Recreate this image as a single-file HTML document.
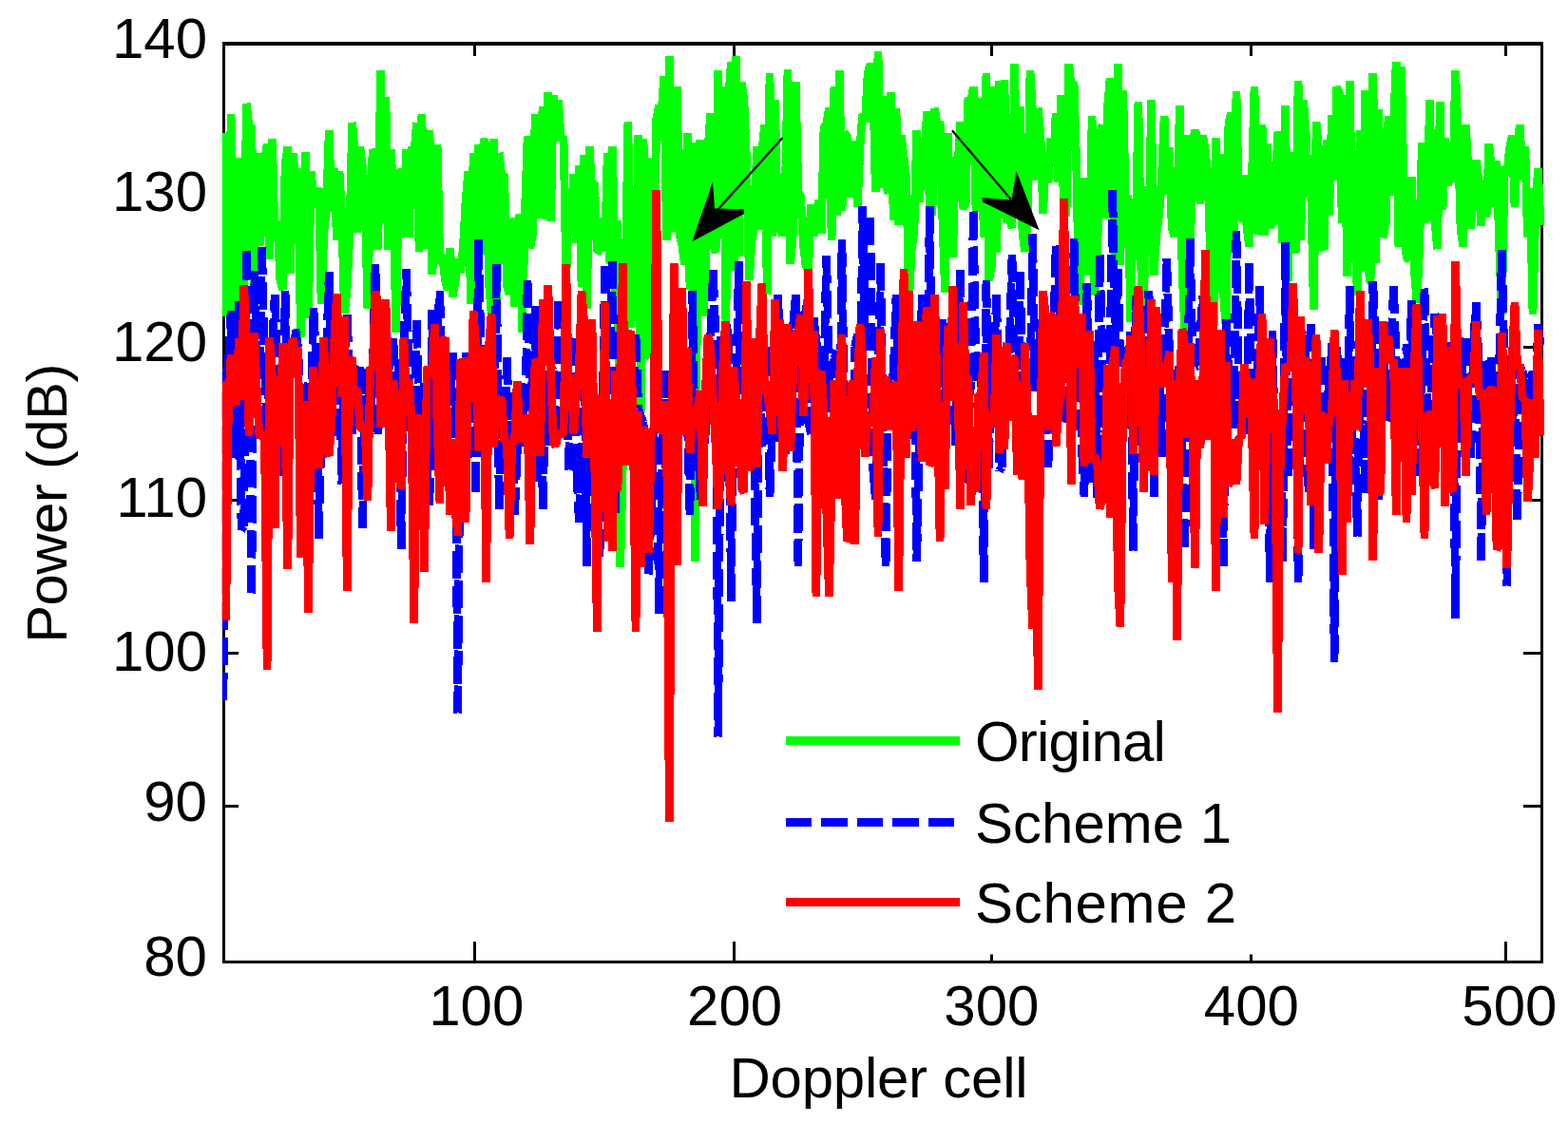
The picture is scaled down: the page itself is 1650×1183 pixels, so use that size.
<!DOCTYPE html>
<html lang="en">
<head>
<meta charset="utf-8">
<title>Doppler cell power</title>
<style>
html,body{margin:0;padding:0;background:#fff;}
body{width:1650px;height:1183px;overflow:hidden;position:relative;font-family:"Liberation Sans",sans-serif;}
svg{position:absolute;left:0;top:0;display:block;}
text{font-family:"Liberation Sans",sans-serif;font-size:60px;fill:#000;}
.c{fill:none;stroke-width:8.7;stroke-linejoin:bevel;stroke-linecap:butt;}
.k{stroke:#000;stroke-width:3.1;fill:none;}
</style>
</head>
<body>
<svg width="1650" height="1183" viewBox="0 0 1650 1183">
<rect x="0" y="0" width="1650" height="1183" fill="#fff"/>
<g class="k" shape-rendering="crispEdges">
<rect x="235.3" y="46.0" width="1386.9" height="966.5"/>
<line x1="499.4" y1="46.0" x2="499.4" y2="58.8"/>
<line x1="499.4" y1="991.0" x2="499.4" y2="1012.5"/>
<line x1="772.8" y1="46.0" x2="772.8" y2="58.8"/>
<line x1="772.8" y1="991.0" x2="772.8" y2="1012.5"/>
<line x1="1043.4" y1="46.0" x2="1043.4" y2="58.8"/>
<line x1="1043.4" y1="991.0" x2="1043.4" y2="1012.5"/>
<line x1="1316.6" y1="46.0" x2="1316.6" y2="58.8"/>
<line x1="1316.6" y1="991.0" x2="1316.6" y2="1012.5"/>
<line x1="1584.4" y1="46.0" x2="1584.4" y2="58.8"/>
<line x1="1584.4" y1="991.0" x2="1584.4" y2="1012.5"/>
<line x1="235.3" y1="204.3" x2="251.0" y2="204.3"/>
<line x1="1603.0" y1="204.3" x2="1622.2" y2="204.3"/>
<line x1="235.3" y1="365.4" x2="251.0" y2="365.4"/>
<line x1="1603.0" y1="365.4" x2="1622.2" y2="365.4"/>
<line x1="235.3" y1="526.4" x2="251.0" y2="526.4"/>
<line x1="1603.0" y1="526.4" x2="1622.2" y2="526.4"/>
<line x1="235.3" y1="687.5" x2="251.0" y2="687.5"/>
<line x1="1603.0" y1="687.5" x2="1622.2" y2="687.5"/>
<line x1="235.3" y1="848.5" x2="251.0" y2="848.5"/>
<line x1="1603.0" y1="848.5" x2="1622.2" y2="848.5"/>
</g>
<clipPath id="cp"><rect x="233.8" y="40" width="1400" height="980"/></clipPath>
<g shape-rendering="crispEdges" clip-path="url(#cp)">
<polyline class="c" stroke="#00ff00" points="235.0,140.0 237.7,332.4 240.4,326.9 243.1,120.0 245.8,341.4 248.6,350.0 251.3,166.2 254.0,323.2 256.7,297.1 259.4,108.8 262.1,136.0 264.8,132.0 267.6,320.0 270.3,161.0 273.0,258.9 275.7,235.3 278.4,171.5 281.1,151.8 283.8,272.5 286.5,145.8 289.2,254.1 292.0,232.7 294.7,293.6 297.4,305.0 300.1,173.0 302.8,154.5 305.5,287.7 308.2,161.2 310.9,189.3 313.7,177.5 316.4,355.0 319.1,266.5 321.8,160.2 324.5,335.0 327.2,180.0 329.9,206.1 332.6,207.3 335.4,197.8 338.1,320.0 340.8,245.2 343.5,220.7 346.2,137.5 348.9,222.5 351.6,177.5 354.4,253.3 357.1,180.5 359.8,231.2 362.5,330.0 365.2,302.4 367.9,247.5 370.6,128.8 373.3,161.0 376.0,245.0 378.8,154.5 381.5,175.5 384.2,213.5 386.9,325.0 389.6,207.6 392.3,157.0 395.0,168.5 397.8,262.5 400.5,74.0 403.2,235.1 405.9,102.5 408.6,263.0 411.3,157.0 414.0,206.1 416.7,350.0 419.4,188.0 422.2,177.5 424.9,249.5 427.6,157.0 430.3,250.0 433.0,154.5 435.7,164.8 438.4,128.8 441.1,265.0 443.9,120.5 446.6,261.9 449.3,146.2 452.0,137.5 454.7,288.8 457.4,253.6 460.1,152.0 462.9,277.3 465.6,268.0 468.3,294.5 471.0,305.2 473.7,261.2 476.4,312.5 479.1,296.6 481.8,272.4 484.5,287.2 487.3,260.8 490.0,212.0 492.7,180.5 495.4,320.0 498.1,160.8 500.8,310.7 503.5,151.8 506.2,268.3 509.0,145.8 511.7,154.0 514.4,297.6 517.1,329.5 519.8,145.8 522.5,340.0 525.2,160.8 528.0,187.3 530.7,183.0 533.4,301.3 536.1,310.0 538.8,229.2 541.5,322.9 544.2,270.4 546.9,225.5 549.6,350.0 552.4,222.5 555.1,143.2 557.8,261.1 560.5,246.6 563.2,120.5 565.9,230.0 568.6,146.1 571.3,112.0 574.1,230.7 576.8,97.0 579.5,232.5 582.2,100.5 584.9,113.7 587.6,105.5 590.3,148.6 593.0,143.2 595.8,295.0 598.5,200.5 601.2,222.1 603.9,183.0 606.6,256.1 609.3,174.2 612.0,302.4 614.8,163.0 617.5,325.0 620.2,154.5 622.9,202.1 625.6,191.8 628.3,264.6 631.0,263.7 633.7,229.6 636.5,265.0 639.2,160.8 641.9,277.7 644.6,153.8 647.3,310.0 650.0,232.5 652.7,597.0 655.4,486.2 658.1,296.6 660.9,128.0 663.6,345.0 666.3,309.5 669.0,318.4 671.7,142.5 674.4,433.5 677.1,146.2 679.8,374.0 682.6,374.9 685.3,166.2 688.0,311.4 690.7,125.0 693.4,111.2 696.1,117.2 698.8,80.0 701.5,252.6 704.3,58.8 707.0,240.3 709.7,240.0 712.4,91.2 715.1,247.7 717.8,258.4 720.5,278.3 723.2,140.0 726.0,305.0 728.7,150.0 731.4,590.8 734.1,242.9 736.8,147.5 739.5,332.5 742.2,301.9 745.0,157.8 747.7,119.5 750.4,255.3 753.1,266.2 755.8,73.8 758.5,250.9 761.2,91.2 763.9,340.0 766.6,104.3 769.4,65.0 772.1,285.0 774.8,58.8 777.5,270.0 780.2,86.2 782.9,105.0 785.6,170.2 788.4,295.0 791.1,252.9 793.8,240.0 796.5,153.8 799.2,241.7 801.9,158.9 804.6,131.2 807.3,310.0 810.0,77.5 812.8,249.3 815.5,105.0 818.2,230.0 820.9,240.0 823.6,248.2 826.3,202.4 829.0,73.0 831.8,277.5 834.5,245.3 837.2,86.2 839.9,202.5 842.6,206.2 845.3,256.2 848.0,280.1 850.7,282.5 853.4,215.0 856.2,248.1 858.9,223.9 861.6,211.2 864.3,246.0 867.0,133.8 869.7,131.2 872.4,113.8 875.1,252.5 877.9,91.2 880.6,226.7 883.3,73.8 886.0,221.9 888.7,140.0 891.4,142.5 894.1,207.5 896.9,148.8 899.6,165.0 902.3,217.5 905.0,153.8 907.7,120.0 910.4,128.7 913.1,77.5 915.8,67.5 918.5,75.2 921.3,202.3 924.0,53.8 926.7,197.6 929.4,101.2 932.1,195.0 934.8,203.6 937.5,97.0 940.2,231.9 943.0,113.8 945.7,237.1 948.4,142.5 951.1,165.0 953.8,187.5 956.5,317.5 959.2,263.6 961.9,243.8 964.7,137.0 967.4,212.5 970.1,166.9 972.8,163.1 975.5,117.5 978.2,217.5 980.9,226.8 983.6,113.8 986.4,134.4 989.1,127.5 991.8,228.9 994.5,307.5 997.2,140.0 999.9,249.2 1002.6,270.5 1005.4,165.0 1008.1,171.1 1010.8,128.0 1013.5,220.0 1016.2,213.3 1018.9,102.5 1021.6,109.4 1024.3,91.2 1027.0,222.5 1029.8,109.8 1032.5,104.2 1035.2,250.2 1037.9,77.0 1040.6,295.0 1043.3,281.3 1046.0,91.2 1048.8,266.0 1051.5,85.0 1054.2,229.9 1056.9,83.8 1059.6,234.1 1062.3,230.0 1065.0,240.0 1067.7,67.5 1070.4,227.3 1073.2,112.5 1075.9,244.1 1078.6,265.0 1081.3,230.6 1084.0,73.8 1086.7,119.8 1089.4,190.0 1092.2,113.8 1094.9,140.0 1097.6,225.0 1100.3,165.6 1103.0,192.3 1105.7,145.0 1108.4,175.0 1111.1,119.5 1113.8,192.3 1116.6,100.0 1119.3,215.0 1122.0,228.2 1124.7,67.5 1127.4,92.1 1130.1,86.2 1132.8,176.2 1135.5,321.0 1138.3,270.0 1141.0,187.5 1143.7,234.7 1146.4,289.7 1149.1,122.5 1151.8,311.0 1154.5,282.2 1157.2,145.1 1160.0,131.2 1162.7,230.0 1165.4,113.8 1168.1,82.5 1170.8,93.9 1173.5,273.5 1176.2,67.5 1178.9,278.9 1181.7,95.0 1184.4,216.6 1187.1,205.0 1189.8,338.5 1192.5,210.9 1195.2,245.4 1197.9,107.5 1200.7,280.9 1203.4,331.0 1206.1,196.2 1208.8,269.1 1211.5,105.0 1214.2,290.0 1216.9,246.9 1219.6,226.4 1222.3,190.0 1225.1,122.0 1227.8,204.8 1230.5,155.0 1233.2,240.0 1235.9,249.0 1238.6,235.6 1241.3,111.2 1244.0,282.0 1246.8,351.0 1249.5,142.5 1252.2,281.0 1254.9,150.9 1257.6,137.0 1260.3,146.7 1263.0,215.0 1265.8,142.5 1268.5,160.0 1271.2,187.5 1273.9,278.9 1276.6,396.0 1279.3,145.0 1282.0,309.3 1284.7,162.5 1287.5,308.9 1290.2,346.0 1292.9,130.0 1295.6,118.8 1298.3,259.1 1301.0,96.2 1303.7,230.0 1306.4,229.4 1309.1,183.8 1311.9,237.3 1314.6,259.8 1317.3,192.3 1320.0,91.2 1322.7,246.2 1325.4,240.1 1328.1,131.2 1330.8,247.5 1333.6,151.2 1336.3,239.7 1339.0,233.5 1341.7,235.0 1344.4,138.8 1347.1,148.9 1349.8,256.4 1352.5,111.2 1355.3,296.0 1358.0,160.0 1360.7,255.5 1363.4,266.2 1366.1,85.0 1368.8,252.5 1371.5,105.0 1374.2,140.0 1377.0,207.1 1379.7,204.3 1382.4,326.0 1385.1,128.0 1387.8,165.0 1390.5,259.3 1393.2,262.5 1396.0,147.5 1398.7,227.3 1401.4,121.2 1404.1,190.0 1406.8,91.2 1409.5,98.9 1412.2,234.8 1414.9,99.6 1417.6,291.0 1420.4,85.0 1423.1,275.0 1425.8,254.7 1428.5,311.0 1431.2,137.0 1433.9,285.6 1436.6,95.0 1439.3,280.6 1442.1,298.5 1444.8,77.0 1447.5,277.4 1450.2,115.0 1452.9,170.4 1455.6,250.1 1458.3,235.0 1461.0,122.5 1463.8,205.8 1466.5,132.0 1469.2,65.0 1471.9,260.0 1474.6,70.0 1477.3,210.6 1480.0,271.1 1482.8,273.4 1485.5,186.2 1488.2,281.5 1490.9,318.5 1493.6,263.3 1496.3,150.0 1499.0,234.1 1501.7,222.5 1504.5,105.0 1507.2,229.8 1509.9,231.3 1512.6,262.2 1515.3,107.5 1518.0,221.3 1520.7,145.0 1523.4,195.6 1526.1,181.2 1528.9,191.9 1531.6,73.8 1534.3,141.6 1537.0,240.9 1539.7,259.8 1542.4,131.2 1545.1,180.7 1547.8,241.2 1550.6,183.4 1553.3,168.8 1556.0,188.5 1558.7,237.5 1561.4,189.1 1564.1,228.4 1566.8,151.2 1569.5,179.4 1572.3,217.5 1575.0,168.8 1577.7,260.8 1580.4,331.0 1583.1,175.0 1585.8,184.0 1588.5,156.2 1591.2,142.5 1594.0,217.5 1596.7,152.9 1599.4,131.2 1602.1,190.0 1604.8,153.8 1607.5,250.2 1610.2,198.3 1613.0,331.0 1615.7,228.8 1618.4,177.0 1621.1,237.5"/>
<path class="c" stroke="#0000ff" stroke-dasharray="29 8" d="M235.0 737.0L237.7 392.9M237.7 392.9L240.4 382.9M240.4 382.9L243.1 327.5M243.1 327.5L245.8 482.0M245.8 482.0L248.6 478.0M248.6 478.0L251.3 317.5M251.3 317.5L254.0 558.2M254.0 558.2L256.7 554.2M256.7 554.2L259.4 263.8M259.4 263.8L262.1 373.2M262.1 373.2L264.8 624.5M264.8 624.5L267.6 285.0M267.6 285.0L270.3 372.4M270.3 372.4L273.0 393.9M273.0 393.9L275.7 260.0M275.7 260.0L278.4 387.2M278.4 387.2L281.1 457.0M281.1 457.0L283.8 361.2M283.8 361.2L286.5 364.2M286.5 364.2L289.2 310.0M289.2 310.0L292.0 387.3M292.0 387.3L294.7 469.5M294.7 469.5L297.4 500.7M297.4 500.7L300.1 306.2M300.1 306.2L302.8 462.6M302.8 462.6L305.5 388.5M305.5 388.5L308.2 381.1M308.2 381.1L310.9 346.2M310.9 346.2L313.7 365.9M313.7 365.9L316.4 436.0M316.4 436.0L319.1 414.7M319.1 414.7L321.8 411.4M321.8 411.4L324.5 403.0M324.5 403.0L327.2 435.7M327.2 435.7L329.9 323.8M329.9 323.8L332.6 377.9M332.6 377.9L335.4 567.0M335.4 567.0L338.1 451.9M338.1 451.9L340.8 479.6M340.8 479.6L343.5 374.3M343.5 374.3L346.2 286.2M346.2 286.2L348.9 457.0M348.9 457.0L351.6 458.5M351.6 458.5L354.4 380.1M354.4 380.1L357.1 397.3M357.1 397.3L359.8 509.5M359.8 509.5L362.5 375.2M362.5 375.2L365.2 331.2M365.2 331.2L367.9 395.2M367.9 395.2L370.6 457.0M370.6 457.0L373.3 390.0M373.3 390.0L376.0 391.3M376.0 391.3L378.8 386.0M378.8 386.0L381.5 555.8M381.5 555.8L384.2 393.7M384.2 393.7L386.9 390.0M386.9 390.0L389.6 444.5M389.6 444.5L392.3 390.0M392.3 390.0L395.0 278.0M395.0 278.0L397.8 457.0M397.8 457.0L400.5 413.4M400.5 413.4L403.2 420.7M403.2 420.7L405.9 360.2M405.9 360.2L408.6 360.2M408.6 360.2L411.3 457.0M411.3 457.0L414.0 356.2M414.0 356.2L416.7 472.7M416.7 472.7L419.4 377.6M419.4 377.6L422.2 578.2M422.2 578.2L424.9 367.5M424.9 367.5L427.6 283.0M427.6 283.0L430.3 394.9M430.3 394.9L433.0 457.0M433.0 457.0L435.7 508.8M435.7 508.8L438.4 337.5M438.4 337.5L441.1 444.5M441.1 444.5L443.9 459.1M443.9 459.1L446.6 403.1M446.6 403.1L449.3 494.0M449.3 494.0L452.0 532.0M452.0 532.0L454.7 326.2M454.7 326.2L457.4 493.0M457.4 493.0L460.1 343.2M460.1 343.2L462.9 306.2M462.9 306.2L465.6 469.5M465.6 469.5L468.3 428.4M468.3 428.4L471.0 392.8M471.0 392.8L473.7 426.7M473.7 426.7L476.4 371.0M476.4 371.0L479.1 432.2M479.1 432.2L481.8 750.5M481.8 750.5L484.5 382.6M484.5 382.6L487.3 445.6M487.3 445.6L490.0 371.0M490.0 371.0L492.7 482.0M492.7 482.0L495.4 380.7M495.4 380.7L498.1 375.0M498.1 375.0L500.8 518.2M500.8 518.2L503.5 252.0M503.5 252.0L506.2 377.5M506.2 377.5L509.0 423.9M509.0 423.9L511.7 457.0M511.7 457.0L514.4 389.9M514.4 389.9L517.1 331.0M517.1 331.0L519.8 424.8M519.8 424.8L522.5 278.0M522.5 278.0L525.2 535.8M525.2 535.8L528.0 412.2M528.0 412.2L530.7 472.8M530.7 472.8L533.4 376.0M533.4 376.0L536.1 460.1M536.1 460.1L538.8 443.5M538.8 443.5L541.5 542.0M541.5 542.0L544.2 476.9M544.2 476.9L546.9 408.1M546.9 408.1L549.6 418.1M549.6 418.1L552.4 469.5M552.4 469.5L555.1 295.0M555.1 295.0L557.8 415.6M557.8 415.6L560.5 398.7M560.5 398.7L563.2 322.5M563.2 322.5L565.9 507.0M565.9 507.0L568.6 390.0M568.6 390.0L571.3 535.8M571.3 535.8L574.1 390.0M574.1 390.0L576.8 468.6M576.8 468.6L579.5 386.0M579.5 386.0L582.2 390.0M582.2 390.0L584.9 457.0M584.9 457.0L587.6 317.5M587.6 317.5L590.3 360.0M590.3 360.0L593.0 360.0M593.0 360.0L595.8 360.0M595.8 360.0L598.5 494.5M598.5 494.5L601.2 360.0M601.2 360.0L603.9 356.0M603.9 356.0L606.6 490.5M606.6 490.5L609.3 549.5M609.3 549.5L612.0 495.3M612.0 495.3L614.8 361.0M614.8 361.0L617.5 595.8M617.5 595.8L620.2 365.0M620.2 365.0L622.9 386.9M622.9 386.9L625.6 486.4M625.6 486.4L628.3 512.9M628.3 512.9L631.0 586.4M631.0 586.4L633.7 457.0M633.7 457.0L636.5 280.0M636.5 280.0L639.2 346.6M639.2 346.6L641.9 372.7M641.9 372.7L644.6 275.0M644.6 275.0L647.3 539.8M647.3 539.8L650.0 410.2M650.0 410.2L652.7 441.7M652.7 441.7L655.4 356.2M655.4 356.2L658.1 457.0M658.1 457.0L660.9 360.3M660.9 360.3L663.6 486.1M663.6 486.1L666.3 414.6M666.3 414.6L669.0 352.2M669.0 352.2L671.7 430.2M671.7 430.2L674.4 438.7M674.4 438.7L677.1 444.5M677.1 444.5L679.8 533.3M679.8 533.3L682.6 604.5M682.6 604.5L685.3 536.1M685.3 536.1L688.0 456.3M688.0 456.3L690.7 386.0M690.7 386.0L693.4 645.8M693.4 645.8L696.1 523.4M696.1 523.4L698.8 390.0M698.8 390.0L701.5 561.0M701.5 561.0L704.3 390.0M704.3 390.0L707.0 457.0M707.0 457.0L709.7 414.2M709.7 414.2L712.4 518.7M712.4 518.7L715.1 390.0M715.1 390.0L717.8 390.0M717.8 390.0L720.5 406.8M720.5 406.8L723.2 435.1M723.2 435.1L726.0 542.0M726.0 542.0L728.7 306.2M728.7 306.2L731.4 495.7M731.4 495.7L734.1 415.0M734.1 415.0L736.8 526.2M736.8 526.2L739.5 504.0M739.5 504.0L742.2 457.0M742.2 457.0L745.0 356.9M745.0 356.9L747.7 353.9M747.7 353.9L750.4 283.8M750.4 283.8L753.1 358.7M753.1 358.7L755.8 775.5M755.8 775.5L758.5 353.7M758.5 353.7L761.2 507.0M761.2 507.0L763.9 339.5M763.9 339.5L766.6 354.5M766.6 354.5L769.4 633.2M769.4 633.2L772.1 391.0M772.1 391.0L774.8 401.3M774.8 401.3L777.5 275.0M777.5 275.0L780.2 514.7M780.2 514.7L782.9 482.0M782.9 482.0L785.6 365.0M785.6 365.0L788.4 365.0M788.4 365.0L791.1 399.6M791.1 399.6L793.8 486.9M793.8 486.9L796.5 655.8M796.5 655.8L799.2 361.0M799.2 361.0L801.9 469.5M801.9 469.5L804.6 403.8M804.6 403.8L807.3 365.0M807.3 365.0L810.0 523.2M810.0 523.2L812.8 448.6M812.8 448.6L815.5 464.5M815.5 464.5L818.2 310.0M818.2 310.0L820.9 354.0M820.9 354.0L823.6 457.0M823.6 457.0L826.3 478.3M826.3 478.3L829.0 341.6M829.0 341.6L831.8 343.6M831.8 343.6L834.5 345.6M834.5 345.6L837.2 310.0M837.2 310.0L839.9 595.8M839.9 595.8L842.6 328.0M842.6 328.0L845.3 446.1M845.3 446.1L848.0 320.8M848.0 320.8L850.7 443.8M850.7 443.8L853.4 457.0M853.4 457.0L856.2 334.0M856.2 334.0L858.9 358.7M858.9 358.7L861.6 378.7M861.6 378.7L864.3 534.8M864.3 534.8L867.0 393.1M867.0 393.1L869.7 268.8M869.7 268.8L872.4 394.6M872.4 394.6L875.1 433.5M875.1 433.5L877.9 377.3M877.9 377.3L880.6 368.7M880.6 368.7L883.3 515.8M883.3 515.8L886.0 252.5M886.0 252.5L888.7 465.9M888.7 465.9L891.4 431.8M891.4 431.8L894.1 543.9M894.1 543.9L896.9 565.6M896.9 565.6L899.6 365.1M899.6 365.1L902.3 351.9M902.3 351.9L905.0 457.0M905.0 457.0L907.7 217.5M907.7 217.5L910.4 357.4M910.4 357.4L913.1 369.1M913.1 369.1L915.8 228.8M915.8 228.8L918.5 491.1M918.5 491.1L921.3 525.8M921.3 525.8L924.0 410.1M924.0 410.1L926.7 277.5M926.7 277.5L929.4 492.4M929.4 492.4L932.1 595.8M932.1 595.8L934.8 397.3M934.8 397.3L937.5 399.4M937.5 399.4L940.2 393.7M940.2 393.7L943.0 310.0M943.0 310.0L945.7 394.6M945.7 394.6L948.4 457.0M948.4 457.0L951.1 365.0M951.1 365.0L953.8 365.0M953.8 365.0L956.5 361.0M956.5 361.0L959.2 461.5M959.2 461.5L961.9 365.0M961.9 365.0L964.7 590.8M964.7 590.8L967.4 466.8M967.4 466.8L970.1 310.0M970.1 310.0L972.8 408.3M972.8 408.3L975.5 481.9M975.5 481.9L978.2 217.5M978.2 217.5L980.9 412.0M980.9 412.0L983.6 465.8M983.6 465.8L986.4 444.5M986.4 444.5L989.1 394.2M989.1 394.2L991.8 336.0M991.8 336.0L994.5 457.0M994.5 457.0L997.2 340.0M997.2 340.0L999.9 340.0M999.9 340.0L1002.6 353.1M1002.6 353.1L1005.4 468.8M1005.4 468.8L1008.1 342.3M1008.1 342.3L1010.8 283.8M1010.8 283.8L1013.5 508.4M1013.5 508.4L1016.2 457.0M1016.2 457.0L1018.9 453.1M1018.9 453.1L1021.6 401.4M1021.6 401.4L1024.3 222.5M1024.3 222.5L1027.0 400.8M1027.0 400.8L1029.8 390.0M1029.8 390.0L1032.5 379.1M1032.5 379.1L1035.2 613.2M1035.2 613.2L1037.9 295.0M1037.9 295.0L1040.6 493.3M1040.6 493.3L1043.3 359.0M1043.3 359.0L1046.0 367.7M1046.0 367.7L1048.8 310.0M1048.8 310.0L1051.5 495.8M1051.5 495.8L1054.2 492.0M1054.2 492.0L1056.9 389.6M1056.9 389.6L1059.6 360.5M1059.6 360.5L1062.3 363.5M1062.3 363.5L1065.0 268.5M1065.0 268.5L1067.7 382.7M1067.7 382.7L1070.4 494.2M1070.4 494.2L1073.2 286.0M1073.2 286.0L1075.9 393.1M1075.9 393.1L1078.6 444.5M1078.6 444.5L1081.3 386.7M1081.3 386.7L1084.0 406.4M1084.0 406.4L1086.7 246.0M1086.7 246.0L1089.4 412.1M1089.4 412.1L1092.2 402.2M1092.2 402.2L1094.9 347.8M1094.9 347.8L1097.6 437.8M1097.6 437.8L1100.3 427.7M1100.3 427.7L1103.0 492.0M1103.0 492.0L1105.7 374.8M1105.7 374.8L1108.4 366.4M1108.4 366.4L1111.1 258.5M1111.1 258.5L1113.8 271.2M1113.8 271.2L1116.6 373.8M1116.6 373.8L1119.3 444.5M1119.3 444.5L1122.0 436.1M1122.0 436.1L1124.7 355.1M1124.7 355.1L1127.4 420.1M1127.4 420.1L1130.1 251.0M1130.1 251.0L1132.8 401.4M1132.8 401.4L1135.5 356.9M1135.5 356.9L1138.3 470.2M1138.3 470.2L1141.0 523.2M1141.0 523.2L1143.7 298.5M1143.7 298.5L1146.4 404.4M1146.4 404.4L1149.1 507.6M1149.1 507.6L1151.8 358.7M1151.8 358.7L1154.5 523.9M1154.5 523.9L1157.2 268.5M1157.2 268.5L1160.0 379.0M1160.0 379.0L1162.7 455.3M1162.7 455.3L1165.4 457.0M1165.4 457.0L1168.1 371.2M1168.1 371.2L1170.8 200.0M1170.8 200.0L1173.5 365.3M1173.5 365.3L1176.2 283.5M1176.2 283.5L1178.9 386.1M1178.9 386.1L1181.7 372.4M1181.7 372.4L1184.4 365.4M1184.4 365.4L1187.1 451.1M1187.1 451.1L1189.8 348.7M1189.8 348.7L1192.5 579.5M1192.5 579.5L1195.2 311.0M1195.2 311.0L1197.9 373.0M1197.9 373.0L1200.7 364.4M1200.7 364.4L1203.4 457.0M1203.4 457.0L1206.1 351.1M1206.1 351.1L1208.8 306.0M1208.8 306.0L1211.5 354.9M1211.5 354.9L1214.2 523.2M1214.2 523.2L1216.9 357.7M1216.9 357.7L1219.6 386.3M1219.6 386.3L1222.3 480.8M1222.3 480.8L1225.1 381.5M1225.1 381.5L1227.8 272.2M1227.8 272.2L1230.5 370.6M1230.5 370.6L1233.2 444.5M1233.2 444.5L1235.9 389.6M1235.9 389.6L1238.6 389.5M1238.6 389.5L1241.3 408.6M1241.3 408.6L1244.0 471.7M1244.0 471.7L1246.8 575.8M1246.8 575.8L1249.5 414.0M1249.5 414.0L1252.2 251.5M1252.2 251.5L1254.9 372.1M1254.9 372.1L1257.6 386.2M1257.6 386.2L1260.3 385.1M1260.3 385.1L1263.0 349.1M1263.0 349.1L1265.8 311.0M1265.8 311.0L1268.5 457.0M1268.5 457.0L1271.2 439.8M1271.2 439.8L1273.9 400.7M1273.9 400.7L1276.6 428.3M1276.6 428.3L1279.3 398.3M1279.3 398.3L1282.0 375.0M1282.0 375.0L1284.7 351.7M1284.7 351.7L1287.5 595.8M1287.5 595.8L1290.2 336.0M1290.2 336.0L1292.9 395.2M1292.9 395.2L1295.6 423.2M1295.6 423.2L1298.3 451.3M1298.3 451.3L1301.0 243.0M1301.0 243.0L1303.7 427.0M1303.7 427.0L1306.4 456.5M1306.4 456.5L1309.1 390.8M1309.1 390.8L1311.9 457.0M1311.9 457.0L1314.6 277.2M1314.6 277.2L1317.3 435.7M1317.3 435.7L1320.0 435.1M1320.0 435.1L1322.7 433.4M1322.7 433.4L1325.4 301.0M1325.4 301.0L1328.1 407.1M1328.1 407.1L1330.8 509.0M1330.8 509.0L1333.6 414.3M1333.6 414.3L1336.3 613.2M1336.3 613.2L1339.0 348.5M1339.0 348.5L1341.7 487.7M1341.7 487.7L1344.4 442.8M1344.4 442.8L1347.1 444.5M1347.1 444.5L1349.8 591.3M1349.8 591.3L1352.5 254.8M1352.5 254.8L1355.3 500.8M1355.3 500.8L1358.0 352.5M1358.0 352.5L1360.7 352.5M1360.7 352.5L1363.4 352.5M1363.4 352.5L1366.1 613.2M1366.1 613.2L1368.8 348.5M1368.8 348.5L1371.5 352.7M1371.5 352.7L1374.2 378.2M1374.2 378.2L1377.0 518.2M1377.0 518.2L1379.7 341.0M1379.7 341.0L1382.4 578.2M1382.4 578.2L1385.1 419.1M1385.1 419.1L1387.8 380.0M1387.8 380.0L1390.5 376.0M1390.5 376.0L1393.2 457.0M1393.2 457.0L1396.0 427.5M1396.0 427.5L1398.7 404.1M1398.7 404.1L1401.4 361.0M1401.4 361.0L1404.1 697.0M1404.1 697.0L1406.8 365.0M1406.8 365.0L1409.5 433.9M1409.5 433.9L1412.2 377.5M1412.2 377.5L1414.9 395.1M1414.9 395.1L1417.6 457.0M1417.6 457.0L1420.4 301.0M1420.4 301.0L1423.1 505.8M1423.1 505.8L1425.8 480.7M1425.8 480.7L1428.5 564.5M1428.5 564.5L1431.2 377.8M1431.2 377.8L1433.9 336.0M1433.9 336.0L1436.6 518.7M1436.6 518.7L1439.3 442.6M1439.3 442.6L1442.1 457.0M1442.1 457.0L1444.8 296.0M1444.8 296.0L1447.5 367.2M1447.5 367.2L1450.2 525.7M1450.2 525.7L1452.9 466.1M1452.9 466.1L1455.6 341.9M1455.6 341.9L1458.3 443.2M1458.3 443.2L1461.0 418.3M1461.0 418.3L1463.8 363.6M1463.8 363.6L1466.5 301.0M1466.5 301.0L1469.2 379.6M1469.2 379.6L1471.9 381.4M1471.9 381.4L1474.6 383.2M1474.6 383.2L1477.3 443.2M1477.3 443.2L1480.0 362.1M1480.0 362.1L1482.8 395.6M1482.8 395.6L1485.5 316.0M1485.5 316.0L1488.2 438.7M1488.2 438.7L1490.9 500.8M1490.9 500.8L1493.6 469.0M1493.6 469.0L1496.3 374.4M1496.3 374.4L1499.0 303.5M1499.0 303.5L1501.7 421.3M1501.7 421.3L1504.5 450.3M1504.5 450.3L1507.2 381.8M1507.2 381.8L1509.9 329.8M1509.9 329.8L1512.6 360.0M1512.6 360.0L1515.3 444.5M1515.3 444.5L1518.0 406.0M1518.0 406.0L1520.7 475.0M1520.7 475.0L1523.4 479.4M1523.4 479.4L1526.1 360.0M1526.1 360.0L1528.9 381.8M1528.9 381.8L1531.6 650.8M1531.6 650.8L1534.3 360.0M1534.3 360.0L1537.0 437.4M1537.0 437.4L1539.7 368.0M1539.7 368.0L1542.4 356.0M1542.4 356.0L1545.1 457.0M1545.1 457.0L1547.8 482.3M1547.8 482.3L1550.6 360.0M1550.6 360.0L1553.3 318.5M1553.3 318.5L1556.0 380.0M1556.0 380.0L1558.7 590.0M1558.7 590.0L1561.4 380.0M1561.4 380.0L1564.1 389.3M1564.1 389.3L1566.8 518.8M1566.8 518.8L1569.5 376.0M1569.5 376.0L1572.3 457.0M1572.3 457.0L1575.0 380.0M1575.0 380.0L1577.7 380.0M1577.7 380.0L1580.4 263.5M1580.4 263.5L1583.1 390.0M1583.1 390.0L1585.8 616.5M1585.8 616.5L1588.5 390.0M1588.5 390.0L1591.2 456.0M1591.2 456.0L1594.0 404.1M1594.0 404.1L1596.7 547.0M1596.7 547.0L1599.4 386.0M1599.4 386.0L1602.1 390.3M1602.1 390.3L1604.8 399.1M1604.8 399.1L1607.5 458.8M1607.5 458.8L1610.2 413.8M1610.2 413.8L1613.0 390.0M1613.0 390.0L1615.7 444.5M1615.7 444.5L1618.4 341.0M1618.4 341.0L1621.1 363.5"/>
<polyline class="c" stroke="#ff0000" points="235.0,401.0 237.7,653.2 240.4,427.0 243.1,373.5 245.8,410.0 248.6,427.0 251.3,356.0 254.0,421.2 256.7,300.5 259.4,357.5 262.1,458.5 264.8,392.0 267.6,350.5 270.3,410.9 273.0,461.0 275.7,457.0 278.4,457.0 281.1,705.0 283.8,355.5 286.5,395.0 289.2,555.8 292.0,395.0 294.7,469.2 297.4,361.0 300.1,452.3 302.8,599.0 305.5,370.0 308.2,355.5 310.9,370.0 313.7,366.0 316.4,587.0 319.1,422.5 321.8,436.0 324.5,645.0 327.2,435.2 329.9,386.0 332.6,488.0 335.4,492.0 338.1,428.6 340.8,355.5 343.5,475.5 346.2,479.5 348.9,445.5 351.6,360.0 354.4,309.0 357.1,385.7 359.8,417.7 362.5,333.5 365.2,622.0 367.9,383.8 370.6,376.0 373.3,428.5 376.0,408.4 378.8,450.5 381.5,450.5 384.2,450.5 386.9,527.0 389.6,386.0 392.3,390.0 395.0,306.5 397.8,319.5 400.5,449.5 403.2,326.4 405.9,315.5 408.6,400.0 411.3,559.0 414.0,400.0 416.7,423.2 419.4,497.8 422.2,514.5 424.9,355.5 427.6,423.2 430.3,399.8 433.0,440.0 435.7,655.8 438.4,440.0 441.1,440.0 443.9,440.0 446.6,602.0 449.3,386.0 452.0,390.0 454.7,390.0 457.4,341.0 460.1,450.6 462.9,529.5 465.6,359.5 468.3,355.5 471.0,462.5 473.7,542.0 476.4,462.5 479.1,538.0 481.8,564.0 484.5,378.5 487.3,382.5 490.0,549.5 492.7,376.0 495.4,423.7 498.1,327.2 500.8,365.0 503.5,475.0 506.2,372.7 509.0,365.0 511.7,613.2 514.4,365.0 517.1,329.8 519.8,470.5 522.5,422.5 525.2,422.5 528.0,418.5 530.7,465.0 533.4,465.0 536.1,567.0 538.8,465.2 541.5,465.2 544.2,401.0 546.9,450.2 549.6,465.5 552.4,440.0 555.1,440.0 557.8,573.2 560.5,440.0 563.2,378.5 565.9,382.5 568.6,479.5 571.3,315.5 574.1,351.2 576.8,300.5 579.5,390.0 582.2,465.5 584.9,469.5 587.6,453.6 590.3,457.0 593.0,457.0 595.8,278.0 598.5,422.7 601.2,394.7 603.9,457.0 606.6,415.1 609.3,390.0 612.0,306.5 614.8,340.0 617.5,482.0 620.2,390.7 622.9,336.0 625.6,478.0 628.3,664.5 631.0,415.0 633.7,537.9 636.5,318.5 639.2,569.6 641.9,420.9 644.6,579.5 647.3,390.0 650.0,517.0 652.7,390.0 655.4,277.2 658.1,489.5 660.9,352.5 663.6,348.5 666.3,450.2 669.0,664.5 671.7,433.5 674.4,597.0 677.1,452.5 679.8,452.5 682.6,582.0 685.3,452.8 688.0,452.8 690.7,200.0 693.4,453.0 696.1,453.0 698.8,422.4 701.5,446.5 704.3,865.0 707.0,447.2 709.7,277.2 712.4,594.5 715.1,327.6 717.8,303.5 720.5,458.0 723.2,366.0 726.0,477.0 728.7,446.1 731.4,430.0 734.1,430.0 736.8,411.0 739.5,533.2 742.2,415.0 745.0,352.2 747.7,365.0 750.4,419.1 753.1,470.5 755.8,535.8 758.5,482.5 761.2,365.0 763.9,338.0 766.6,495.5 769.4,532.0 772.1,386.0 774.8,424.0 777.5,421.2 780.2,514.2 782.9,518.2 785.6,296.0 788.4,495.8 791.1,360.0 793.8,360.0 796.5,492.0 799.2,360.0 801.9,298.0 804.6,411.9 807.3,412.7 810.0,432.1 812.8,457.0 815.5,315.5 818.2,410.2 820.9,336.0 823.6,495.8 826.3,425.3 829.0,341.0 831.8,474.5 834.5,396.6 837.2,350.0 839.9,350.0 842.6,331.0 845.3,438.0 848.0,385.6 850.7,283.5 853.4,402.4 856.2,348.5 858.9,628.2 861.6,395.0 864.3,391.0 867.0,432.7 869.7,535.5 872.4,628.2 875.1,506.7 877.9,400.0 880.6,524.5 883.3,400.0 886.0,352.2 888.7,503.0 891.4,569.5 894.1,565.5 896.9,400.0 899.6,573.2 902.3,400.0 905.0,341.0 907.7,376.2 910.4,480.8 913.1,439.9 915.8,438.7 918.5,447.9 921.3,376.2 924.0,564.5 926.7,346.0 929.4,453.0 932.1,396.0 934.8,418.4 937.5,453.0 940.2,405.0 943.0,405.0 945.7,622.0 948.4,405.0 951.1,283.5 953.8,482.0 956.5,306.0 959.2,453.0 961.9,446.3 964.7,338.0 967.4,402.1 970.1,485.8 972.8,350.0 975.5,323.5 978.2,489.5 980.9,485.5 983.6,309.8 986.4,422.5 989.1,569.5 991.8,422.5 994.5,514.5 997.2,343.5 999.9,421.8 1002.6,301.0 1005.4,408.5 1008.1,418.5 1010.8,535.8 1013.5,318.5 1016.2,400.0 1018.9,396.0 1021.6,532.0 1024.3,478.2 1027.0,518.2 1029.8,415.0 1032.5,415.0 1035.2,371.0 1037.9,535.8 1040.6,434.8 1043.3,443.0 1046.0,443.0 1048.8,352.2 1051.5,477.0 1054.2,365.0 1056.9,473.2 1059.6,361.0 1062.3,443.0 1065.0,376.2 1067.7,377.9 1070.4,499.5 1073.2,434.4 1075.9,504.5 1078.6,361.0 1081.3,437.5 1084.0,597.0 1086.7,662.0 1089.4,437.5 1092.2,725.8 1094.9,449.7 1097.6,306.5 1100.3,332.5 1103.0,453.0 1105.7,332.5 1108.4,332.5 1111.1,469.5 1113.8,435.5 1116.6,414.1 1119.3,208.8 1122.0,315.0 1124.7,315.0 1127.4,509.5 1130.1,311.0 1132.8,340.0 1135.5,386.5 1138.3,329.8 1141.0,490.8 1143.7,358.6 1146.4,348.5 1149.1,486.8 1151.8,479.2 1154.5,486.8 1157.2,535.8 1160.0,522.9 1162.7,507.0 1165.4,383.8 1168.1,544.5 1170.8,383.8 1173.5,364.8 1176.2,610.8 1178.9,659.5 1181.7,420.2 1184.4,380.0 1187.1,380.0 1189.8,353.5 1192.5,478.2 1195.2,357.5 1197.9,301.0 1200.7,360.0 1203.4,518.2 1206.1,405.1 1208.8,495.5 1211.5,315.5 1214.2,499.5 1216.9,323.5 1219.6,392.5 1222.3,407.5 1225.1,392.5 1227.8,392.5 1230.5,369.8 1233.2,613.2 1235.9,400.0 1238.6,674.0 1241.3,400.0 1244.0,346.0 1246.8,365.0 1249.5,460.5 1252.2,361.0 1254.9,460.5 1257.6,598.2 1260.3,400.0 1263.0,471.7 1265.8,400.0 1268.5,263.5 1271.2,462.8 1273.9,386.1 1276.6,318.5 1279.3,622.0 1282.0,405.0 1284.7,347.2 1287.5,544.5 1290.2,381.0 1292.9,512.0 1295.6,497.5 1298.3,462.5 1301.0,509.5 1303.7,460.2 1306.4,460.2 1309.1,383.5 1311.9,400.0 1314.6,400.0 1317.3,446.9 1320.0,567.0 1322.7,400.0 1325.4,401.0 1328.1,329.8 1330.8,552.0 1333.6,422.9 1336.3,356.0 1339.0,406.0 1341.7,438.0 1344.4,750.0 1347.1,493.0 1349.8,432.5 1352.5,383.5 1355.3,387.5 1358.0,387.5 1360.7,298.0 1363.4,390.3 1366.1,582.0 1368.8,333.5 1371.5,435.1 1374.2,376.0 1377.0,412.5 1379.7,532.0 1382.4,412.5 1385.1,352.2 1387.8,582.0 1390.5,437.5 1393.2,437.5 1396.0,488.0 1398.7,437.5 1401.4,437.5 1404.1,347.2 1406.8,400.0 1409.5,404.5 1412.2,604.5 1414.9,400.0 1417.6,549.5 1420.4,413.0 1423.1,453.0 1425.8,400.0 1428.5,453.0 1431.2,306.5 1433.9,386.5 1436.6,407.2 1439.3,336.0 1442.1,387.5 1444.8,590.0 1447.5,387.5 1450.2,519.5 1452.9,517.0 1455.6,338.0 1458.3,368.9 1461.0,353.5 1463.8,382.5 1466.5,378.5 1469.2,541.5 1471.9,387.5 1474.6,449.6 1477.3,387.5 1480.0,550.0 1482.8,387.5 1485.5,520.8 1488.2,387.5 1490.9,319.8 1493.6,436.2 1496.3,436.2 1499.0,567.0 1501.7,436.2 1504.5,436.2 1507.2,436.2 1509.9,514.4 1512.6,332.2 1515.3,388.5 1518.0,329.8 1520.7,533.2 1523.4,365.4 1526.1,513.0 1528.9,517.0 1531.6,274.8 1534.3,398.8 1537.0,407.7 1539.7,398.8 1542.4,500.8 1545.1,398.8 1547.8,398.8 1550.6,398.8 1553.3,338.0 1556.0,410.0 1558.7,420.1 1561.4,410.0 1564.1,542.0 1566.8,410.0 1569.5,410.0 1572.3,410.0 1575.0,578.2 1577.7,574.2 1580.4,349.8 1583.1,415.0 1585.8,598.2 1588.5,463.0 1591.2,380.0 1594.0,318.0 1596.7,387.5 1599.4,383.5 1602.1,420.0 1604.8,420.0 1607.5,528.2 1610.2,478.0 1613.0,420.0 1615.7,482.0 1618.4,347.2 1621.1,458.2"/>
</g>
<rect x="815" y="742" width="520" height="262.5" fill="#fff"/>
<g shape-rendering="crispEdges" fill="none" stroke-width="9.2">
<line x1="826.7" y1="779.5" x2="1010" y2="779.5" stroke="#00ff00"/>
<line x1="826.7" y1="865.8" x2="1010" y2="865.8" stroke="#0000ff" stroke-dasharray="27.5 10"/>
<line x1="826.7" y1="949.2" x2="1010" y2="949.2" stroke="#ff0000"/>
</g>
<text x="1026" y="801" style="letter-spacing:-0.85px">Original</text>
<text x="1026" y="886.7">Scheme 1</text>
<text x="1026" y="970.7" style="letter-spacing:0.7px">Scheme 2</text>
<g stroke="#000" stroke-width="2.2" fill="#000">
<line x1="823.5" y1="145" x2="755" y2="221"/>
<polygon points="728.3,254.2 750,191.5 752,219.5 783,220.3 783,225" stroke="none"/>
<line x1="1001.9" y1="137.3" x2="1064" y2="210"/>
<polygon points="1093.6,242.2 1069.5,180 1064.5,210.5 1033.5,208 1034,212.5" stroke="none"/>
</g>
<text x="218" y="60.6" text-anchor="end">140</text>
<text x="218" y="222.1" text-anchor="end">130</text>
<text x="218" y="380.4" text-anchor="end">120</text>
<text x="218" y="543.8" text-anchor="end">110</text>
<text x="218" y="705.6" text-anchor="end">100</text>
<text x="218" y="863.8" text-anchor="end">90</text>
<text x="218" y="1027.4" text-anchor="end">80</text>
<text x="501.2" y="1079.4" text-anchor="middle">100</text>
<text x="773.1" y="1079.4" text-anchor="middle">200</text>
<text x="1043.4" y="1079.4" text-anchor="middle">300</text>
<text x="1316.9" y="1079.4" text-anchor="middle">400</text>
<text x="1588.4" y="1079.4" text-anchor="middle">500</text>
<text x="924.4" y="1154.9" text-anchor="middle" style="letter-spacing:-0.24px">Doppler cell</text>
<text transform="translate(69.6,530.0) rotate(-90)" text-anchor="middle" style="letter-spacing:-0.66px">Power (dB)</text>
</svg>
</body>
</html>
